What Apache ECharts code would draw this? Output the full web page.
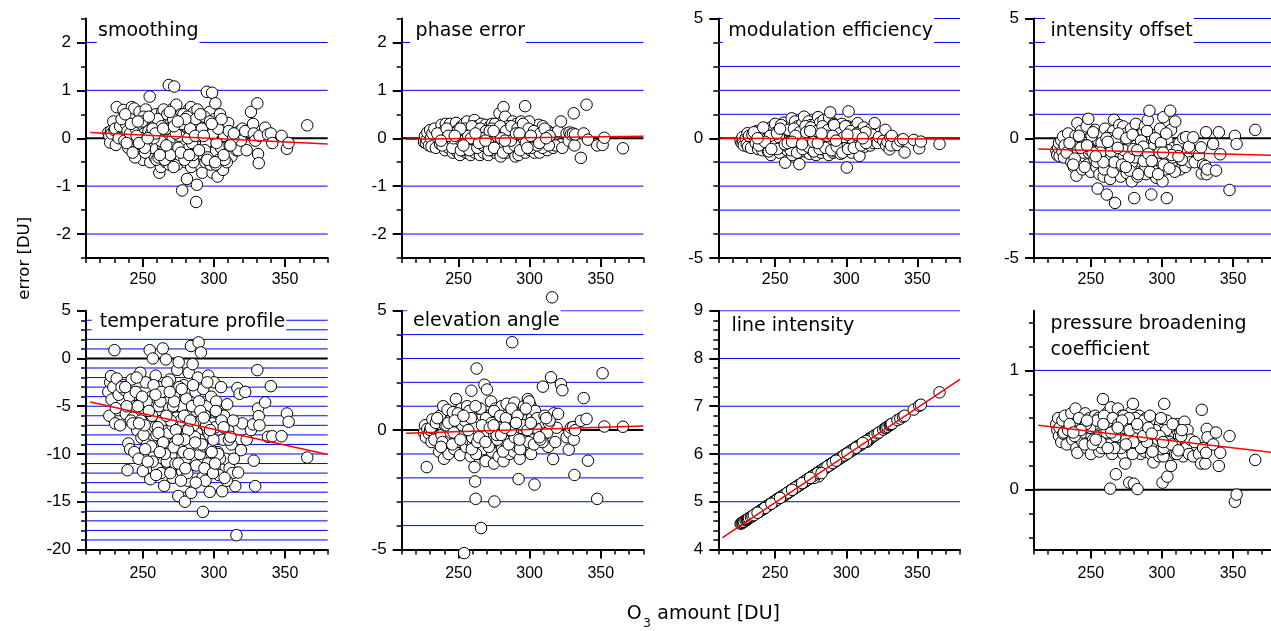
<!DOCTYPE html>
<html><head><meta charset="utf-8">
<script src="https://cdn.jsdelivr.net/npm/echarts@6/dist/echarts.min.js"></script>
<style>html,body{margin:0;padding:0;background:#fff}#c{width:1271px;height:631px}</style>
</head><body><div id="c"></div>
<script>
// ---- data ----
const o3 = [
225.7,226.4,227.0,227.6,228.0,229.2,230.0,230.5,231.0,231.6,
233,234,236.3,237,238,239.2,239.8,240.5,241,242.2,
243,244,245,246,247,247.6,248.2,249,250,251,
252,253,253.9,254.8,255.2,256,257,258,258.5,259,
260,261.2,261.6,262,262.7,263.6,264,265,265.8,266.2,
267,267.6,268.2,269,270,270.3,271,272,272.8,273.5,
274.2,274.9,275.2,276,277,277.6,278.2,278.8,279.6,280.2,
280.5,281,281.6,282.3,282.8,283.8,284,285,286,287,
287.5,287.7,288,288.7,289.2,290,290.8,291.2,291.8,292.2,
292.5,293,294,295,296,296.8,297,298,298.7,299,
300,300.4,301,301.6,302.6,303.4,303.8,305,305.8,306.4,
307,308,309.3,310,311,312.3,313,315,315.8,316.5,
317,318,319,320,244.5,250.5,256.5,263,268.6,276.5,
283,285.5,289.8,294.5,297.6,304.2,260.5,270.8,279,286.5,
248.6,255.8,262.3,266.8,271.6,275.6,278.5,284.6,293.6,301.8,
252.6,259.6,264.6,269.6,273,281.8,288.4,295.6,299.6,309,
322,323,326,327.5,328,329,330.5,331,331.5,332,336,338,340,341,347.5,351.3,352.5,365.6,
235,238.6,241.6,245.6,249.5,251.6,254.2,257.5,259.3,261,
263.2,265.4,267.2,269.3,271.3,273.2,275,277.3,279.3,281.3,
283.3,285.3,287.2,289.5,291.5,293.3,295.3,297.3,299.3,301.3,
303,305.3,307.5,310.5,313.5,246.5,256.8,266.5,276.8,286.8,
242.8,251.3,258.8,264.3,271.9,279.9,290.4,298.4,306.8,314,
237.6,247.3,253.4,261.9,268.9,274.6,282.6,292.8,300.8,311.6];

const smoothing = [
0.12,0.05,-0.09,0.15,0.1,0.35,0.17,0.2,-0.14,0.65,
0.0,0.25,0.59,-0.05,0.3,0.15,-0.2,0.45,0.1,0.65,
-0.15,0.62,0.2,-0.25,0.05,0.55,-0.35,0.3,-0.45,0.1,
0.6,-0.3,0.15,0.87,-0.5,0.4,-0.1,0.25,-0.4,0.5,
-0.2,0.35,-0.72,0.1,-0.6,0.55,-0.3,0.3,0.05,-0.5,
0.45,-0.15,1.11,0.3,-0.45,0.6,0.0,1.08,-0.25,0.7,
-0.55,0.2,0.45,-0.35,0.5,-1.09,0.15,-0.1,0.35,-0.5,
0.25,-0.85,-0.2,0.6,-0.4,0.65,-0.6,0.1,0.55,-0.3,
-1.33,0.3,-0.97,-0.45,0.45,-0.15,0.05,-0.6,-0.72,0.35,
-0.35,0.2,-0.5,0.97,0.25,-0.2,0.55,-0.05,0.95,-0.72,
-0.3,0.4,0.73,0.1,-0.8,-0.45,0.3,-0.2,0.15,-0.66,
0.05,-0.35,0.25,0.32,-0.15,-0.38,0.1,-0.1,-0.25,0.05,
-0.25,0.15,-0.05,0.2,-0.4,0.45,-0.2,0.15,-0.55,-0.05,
0.05,-0.5,0.15,-0.1,-0.55,0.5,0.4,0.25,-0.35,0.35,
0.0,0.1,-0.05,0.2,-0.6,0.05,0.5,-0.1,-0.25,-0.1,
-0.1,-0.45,0.6,-0.2,0.35,0.0,0.6,-0.4,0.2,-0.5,
0.15,-0.25,0.55,0.3,0.1,-0.05,0.73,-0.33,-0.52,0.05,0.22,0.08,0.1,-0.1,0.05,-0.22,-0.1,0.27,
0.4,-0.1,0.3,0.05,0.35,-0.3,0.45,0.0,0.15,-0.4,
0.25,-0.45,0.5,-0.35,0.4,0.1,-0.2,0.3,-0.45,0.45,
0.2,-0.35,0.4,-0.25,0.2,0.45,-0.45,0.35,0.1,-0.55,
0.2,0.4,-0.45,0.15,0.0,0.35,0.2,-0.15,-0.3,0.05,
-0.3,-0.2,0.1,0.2,0.25,0.4,0.5,0.3,-0.35,0.1,
0.5,-0.1,0.0,-0.35,0.55,0.35,-0.35,0.05,-0.5,-0.15];

const phaseError = [
-0.08,0.05,-0.1,-0.03,0.12,-0.15,0.17,0.0,-0.17,0.1,
0.2,-0.2,0.05,-0.12,0.28,-0.05,0.15,-0.25,0.3,0.0,
-0.2,0.3,0.1,-0.3,0.22,-0.05,0.32,-0.28,0.12,-0.35,
0.25,-0.1,0.3,0.05,-0.3,0.35,-0.2,0.1,-0.35,0.2,
-0.15,0.38,-0.3,0.05,0.25,-0.25,0.15,-0.35,0.3,-0.05,
0.2,-0.3,0.1,0.28,-0.2,0.05,-0.35,0.25,-0.1,0.3,
-0.25,0.15,0.0,-0.3,0.3,-0.15,0.2,0.52,-0.38,0.1,
-0.2,0.35,0.65,-0.1,0.45,-0.3,0.2,0.0,-0.25,0.3,
-0.15,0.15,0.35,-0.3,0.05,-0.38,0.3,-0.2,0.1,-0.35,
0.25,-0.05,0.35,-0.25,0.15,0.67,-0.3,0.2,0.0,-0.15,
0.3,-0.25,0.1,-0.1,0.25,-0.3,0.05,0.2,-0.2,0.28,
-0.3,0.1,0.25,-0.15,0.05,-0.25,0.15,-0.05,0.1,-0.2,
0.05,-0.15,0.1,0.15,0.0,-0.15,0.12,0.0,0.15,-0.1,
-0.05,0.12,-0.1,0.05,0.1,-0.1,-0.2,-0.05,0.1,-0.1,
0.15,-0.2,0.2,-0.15,0.1,0.3,-0.1,0.25,0.12,0.1,
-0.25,0.1,-0.1,0.15,-0.25,0.2,-0.05,-0.1,0.35,-0.2,
0.35,-0.2,0.1,-0.05,0.12,0.08,0.1,0.52,-0.15,0.08,-0.41,0.1,0.70,-0.03,-0.15,-0.14,0.01,-0.21,
0.1,-0.15,0.2,-0.2,0.15,-0.25,0.2,-0.25,0.25,0.0,
-0.2,0.2,-0.15,0.15,-0.25,0.2,-0.2,0.15,0.25,-0.3,
0.15,-0.2,0.25,-0.15,0.2,-0.25,0.3,-0.1,0.2,-0.2,
0.15,-0.15,0.1,0.2,-0.15,0.0,0.05,0.0,0.05,-0.05,
0.05,0.2,0.0,-0.1,0.15,0.0,0.1,-0.2,-0.1,0.05,
-0.05,0.05,-0.15,0.1,-0.05,0.15,-0.05,0.1,0.05,0.0];

const modulationEfficiency = [
-0.11,-0.2,0.05,-0.15,-0.3,0.0,-0.25,0.21,-0.35,0.1,
-0.4,0.15,-0.2,0.3,-0.45,0.05,-0.3,0.35,-0.5,0.2,
-0.1,0.4,-0.55,0.25,-0.7,0.1,0.5,-0.35,0.6,-0.2,
0.3,-0.6,0.15,0.55,-0.4,0.65,-1.02,0.2,-0.5,0.45,
-0.3,0.6,0.83,-0.7,0.3,-0.45,0.7,-0.2,0.5,-0.6,
-1.08,0.35,-0.4,0.6,-0.15,0.9,-0.55,0.45,-0.3,0.7,
-0.65,0.2,0.55,-0.5,0.35,-0.25,0.6,-0.7,0.15,0.88,
-0.45,0.25,0.65,-0.6,0.4,-0.3,0.75,-0.5,0.3,-0.15,
0.55,-0.7,0.85,1.08,-0.4,0.25,-0.6,0.6,-0.3,0.45,
-0.55,0.3,-0.2,0.5,-0.65,0.15,0.6,-0.45,0.35,-0.25,
0.2,-1.22,0.5,1.12,-0.5,0.35,-0.6,0.45,-0.3,0.2,
-0.4,0.63,-0.74,0.3,-0.2,0.45,-0.35,0.2,-0.1,0.35,
-0.3,0.15,-0.2,0.63,0.0,-0.1,0.1,-0.05,0.15,-0.1,
0.1,-0.2,0.0,-0.05,0.15,-0.15,0.05,0.2,-0.1,0.0,
-0.25,-0.1,0.1,-0.3,0.0,0.1,-0.3,0.05,-0.35,-0.05,
0.05,-0.15,-0.05,0.1,-0.2,-0.05,-0.25,0.0,-0.4,0.1,
-0.2,0.05,-0.1,0.35,-0.3,-0.15,-0.46,0.03,-0.3,0.1,-0.28,-0.1,-0.04,-0.59,-0.07,-0.42,-0.14,-0.24,
0.25,-0.3,0.45,-0.55,0.2,-0.45,0.55,-0.3,0.35,-0.5,
0.4,-0.6,0.25,-0.45,0.5,-0.35,0.45,-0.55,0.3,-0.45,
0.5,-0.4,0.35,-0.5,0.55,-0.35,0.2,-0.6,0.5,-0.45,
0.3,-0.4,0.2,-0.3,0.25,0.1,-0.25,0.0,-0.15,0.1,
-0.15,0.2,-0.2,0.1,0.25,-0.2,0.1,0.05,0.15,-0.2,
0.0,-0.45,0.4,-0.15,-0.25,0.3,0.2,-0.1,0.15,0.0];

const intensityOffset = [
-0.5,-0.7,-0.4,-0.2,-0.75,-0.1,-0.55,0.07,-0.8,-0.3,
-0.6,0.2,-1.0,-0.3,-1.2,0.1,-1.56,0.63,-0.5,-0.9,
0.3,-1.3,-0.2,-0.8,0.5,-1.1,0.81,-0.4,-1.4,0.0,
-0.7,0.35,-1.2,-2.1,-0.1,-1.5,0.2,-0.9,-0.3,-1.6,
0.4,-2.35,-0.6,-1.1,0.1,-1.7,-0.4,-0.9,0.3,0.77,
-2.7,-1.3,-0.2,-1.0,0.55,-0.6,-1.6,-0.3,0.49,-1.2,
-0.5,0.2,-1.45,-0.8,-0.1,-1.1,0.4,-1.8,-0.6,-0.2,
-2.5,-1.25,0.6,-0.7,-1.6,0.1,-0.9,-0.4,-1.3,0.3,
-0.6,-1.0,0.5,-1.5,-0.2,0.75,-0.8,1.15,-1.2,-0.4,
-2.35,0.1,-1.05,-0.5,-1.65,0.2,-0.7,-1.3,0.4,-1.0,
-0.3,-1.8,0.88,-0.6,-1.3,-2.5,-0.1,-0.9,1.15,0.35,
-1.1,-0.4,0.7,-0.7,-1.0,-0.2,-1.3,0.0,-0.6,-1.2,
0.05,-0.85,-0.35,-1.0,-0.6,0.1,-0.5,0.0,-0.7,-0.4,
-0.5,-1.0,-0.9,-0.2,-0.55,-0.5,-0.8,-0.9,-1.0,-0.7,
-0.6,-0.7,-0.3,-0.5,0.0,-0.6,-0.35,-0.2,-0.4,-0.9,
-0.9,-0.2,-1.3,-0.55,-0.8,-0.3,-1.2,-0.9,-0.4,-1.4,
0.04,-1.0,-0.7,-0.38,-1.47,-1.1,-1.16,0.25,-1.5,-1.3,-0.24,-1.35,0.25,-0.67,-2.16,0.1,-0.24,0.35,
-0.2,-0.85,0.1,-1.2,-0.5,0.25,-1.0,-0.2,-1.3,0.0,
-0.9,-1.4,-0.1,0.2,-1.15,-0.5,0.0,-1.35,0.15,-0.8,
-1.5,-0.1,-0.95,0.3,-1.4,-0.7,0.0,-1.5,-0.2,-1.1,
0.2,-1.25,-0.8,-0.5,-0.9,-0.3,-0.6,-1.0,-0.8,-0.35,
-0.4,-0.6,-1.0,-0.55,-1.1,-0.45,-0.65,-0.6,-0.7,-0.9,
-1.1,-0.3,-0.75,-0.15,-0.4,-1.2,-0.5,-0.95,-0.6,-0.75];

const temperatureProfile = [
-3.5,-6.0,-2.5,-1.85,-4.3,-3.0,0.87,-6.8,-5.2,-2.1,
-3.8,-7.0,-2.8,-3.3,-5.8,-11.7,-8.9,-4.0,-9.5,-2.2,
-6.2,-9.8,-3.5,-7.5,-10.5,-4.8,-1.5,-8.3,-11.8,-5.5,
-2.5,-9.0,-6.8,0.87,-12.64,-4.0,0.0,-10.2,-7.2,-1.8,
-11.5,-5.0,-8.5,-3.0,-12.0,-6.5,1.05,-13.34,-9.5,-0.1,
-4.5,-11.0,-7.8,-2.2,-10.2,-5.5,-12.5,-3.8,-8.8,-6.2,
-1.2,-14.4,-0.4,-9.0,-5.0,-11.8,-7.0,-2.8,-15.0,-10.5,
-4.2,-8.0,-12.8,-1.5,-6.0,1.3,-14.07,-0.6,-9.5,-3.5,
-11.2,-5.5,-7.8,-2.0,1.68,-10.0,0.63,-6.5,-12.5,-16.06,
-3.2,-9.2,-12.8,-5.0,-1.8,-8.0,-13.97,-4.0,-10.5,-6.8,
-2.5,-11.5,-7.2,-4.5,-9.8,-12.2,-5.8,-3.0,-13.9,-8.5,
-6.0,-10.5,-4.8,-7.5,-11.5,-9.0,-12.0,-13.37,-18.5,-3.1,
-11.94,-3.7,-9.6,-6.8,-5.0,-8.0,-6.0,-9.0,-5.2,-6.5,
-9.0,-7.0,-8.5,-7.0,-9.5,-10.5,-7.2,-7.0,-6.0,-8.2,
-6.5,-9.2,-4.5,-10.8,-9.3,-3.0,-9.8,-5.0,-6.0,-10.0,
-4.5,-8.0,-3.5,-6.5,-11.0,-7.5,-9.0,-11.0,-8.5,-12.8,
-3.5,-8.5,-7.5,-6.9,-10.7,-13.37,-1.22,-5.24,-6.04,-7.0,-4.6,-8.2,-2.9,-8.14,-8.14,-5.76,-6.63,-10.37,
-3.0,-5.0,-6.5,-2.0,-4.0,-9.5,-5.5,-2.8,-12.2,-7.8,
-3.5,-10.0,-2.5,-12.0,-5.0,-7.5,-11.0,-3.2,-8.5,-12.0,
-6.5,-2.8,-13.0,-4.5,-9.0,-11.5,-2.5,-7.5,-12.0,-5.5,
-10.0,-6.5,-12.5,-8.5,-6.5,-5.0,-10.8,-6.0,-12.8,-8.8,
-6.8,-7.0,-3.8,-8.8,-4.5,-11.5,-5.5,-9.8,-7.2,-10.5,
-3.0,-6.8,-10.8,-9.8,-3.5,-8.5,-10.0,-6.2,-11.0,-8.2];

const elevationAngle = [
-0.1,0.2,-0.3,-1.55,0.05,-0.15,0.0,0.1,-0.5,0.45,
-0.4,0.3,-0.9,0.6,-0.2,1.0,-1.2,0.2,-0.6,0.85,
-1.0,0.4,-0.3,0.75,-0.8,0.1,1.3,-0.5,0.3,-1.05,
0.9,-0.2,-5.15,0.5,-0.7,1.0,-0.4,0.2,-1.1,1.65,
-0.6,-1.55,-2.15,-2.88,2.58,0.7,-1.0,0.2,-4.1,0.5,
-0.8,0.3,1.9,-1.3,1.7,-0.1,0.6,-0.6,1.2,-0.9,
0.4,-1.4,-2.99,0.9,-0.3,0.1,-1.1,0.7,-0.5,1.0,
-0.8,0.3,-1.3,0.6,-0.1,1.1,-0.7,0.4,-1.0,0.2,
-0.4,3.68,0.8,-0.9,1.15,-0.2,0.5,-0.7,0.0,-2.05,
0.3,-1.2,0.7,-0.5,1.0,-0.2,0.4,-0.8,1.3,0.1,
-0.6,1.05,-1.0,0.5,0.2,-2.28,0.8,-0.3,0.4,-0.1,
0.2,-0.3,1.82,-0.2,0.3,-0.1,-0.7,2.21,5.56,-1.21,
0.7,-0.5,0.1,0.68,-0.1,0.1,0.3,-0.2,0.0,0.3,
-0.3,0.5,0.1,-0.4,0.0,0.1,0.4,-0.5,0.1,-0.2,
-0.2,0.0,-1.0,0.6,-0.3,0.5,-0.1,-0.5,0.1,-0.4,
0.2,-0.3,0.9,-0.1,0.2,-0.4,0.0,0.2,1.2,-0.5,
1.92,1.67,-0.3,-0.82,-0.1,0.1,0.13,-0.4,-1.88,0.0,0.39,1.34,0.47,-1.28,-2.88,2.38,0.15,0.14,
0.5,-0.5,0.2,-0.6,0.7,-0.3,0.4,0.8,-0.8,0.1,
-0.5,0.9,-0.2,0.5,-0.7,0.3,0.8,-0.4,0.6,-0.9,
0.5,-0.6,0.9,-0.3,0.6,-0.8,0.2,0.9,-0.5,0.3,
-0.6,0.5,-0.4,0.6,0.3,-0.1,0.0,0.2,-0.2,0.0,
0.3,-0.4,0.5,-0.3,0.1,-0.2,0.3,0.0,-0.3,0.4,
-0.7,0.4,0.6,1.0,-0.5,0.2,0.1,-0.4,0.3,0.5];

const lineIntensity = [
4.54,4.55,4.56,4.58,4.58,4.61,4.62,4.63,4.64,4.66,
4.68,4.70,4.75,4.76,4.78,4.80,4.82,4.83,4.84,4.86,
4.88,4.90,4.92,4.94,4.96,4.97,4.98,5.00,5.02,5.04,
5.06,5.08,5.09,5.11,5.12,5.13,5.15,5.17,5.18,5.19,
5.21,5.24,5.24,5.25,5.27,5.28,5.29,5.31,5.33,5.33,
5.35,5.36,5.37,5.39,5.41,5.41,5.43,5.45,5.46,5.48,
5.49,5.51,5.51,5.53,5.55,5.56,5.57,5.58,5.60,5.61,
5.53,5.63,5.64,5.65,5.66,5.68,5.68,5.70,5.72,5.74,
5.75,5.76,5.76,5.78,5.79,5.80,5.82,5.83,5.84,5.85,
5.85,5.86,5.88,5.90,5.92,5.94,5.94,5.96,5.97,5.98,
6.00,6.01,6.02,6.03,6.05,6.07,6.07,6.10,6.11,6.12,
6.14,6.16,6.18,6.19,6.21,6.24,6.25,6.26,6.31,6.32,
6.33,6.35,6.37,6.39,4.91,5.03,5.14,5.27,5.38,5.54,
5.66,5.71,5.80,5.89,5.95,6.08,5.22,5.42,5.59,5.73,
4.99,5.13,5.26,5.35,5.44,5.52,5.58,5.70,5.87,6.03,
5.07,5.20,5.30,5.40,5.47,5.64,5.77,5.91,5.99,6.17,
6.43,6.45,6.51,6.54,6.55,6.57,6.60,6.61,6.62,6.63,6.71,6.74,6.78,6.80,6.93,7.01,7.03,7.29,
4.72,4.79,4.85,4.93,5.01,5.05,5.10,5.16,5.20,5.23,
5.28,5.32,5.35,5.40,5.43,5.47,5.51,5.50,5.59,5.63,
5.67,5.71,5.75,5.79,5.83,5.87,5.91,5.95,5.98,6.02,
6.06,6.10,6.15,6.20,6.26,4.95,5.15,5.34,5.54,5.74,
4.87,5.04,5.19,5.30,5.45,5.60,5.81,5.97,6.13,6.27,
4.77,4.96,5.08,5.25,5.39,5.50,5.60,5.86,6.01,6.23];

const pressureBroadening = [
0.55,0.5,0.6,0.45,0.52,0.4,0.58,0.47,0.48,0.62,
0.38,0.5,0.64,0.42,0.55,0.68,0.35,0.31,0.58,0.45,
0.6,0.4,0.55,0.64,0.35,0.5,0.42,0.6,0.3,0.55,
0.45,0.62,0.38,0.5,0.6,0.32,0.55,0.45,0.76,0.4,
0.58,0.35,0.5,0.65,0.45,0.01,0.69,0.3,0.55,0.42,
0.6,0.13,0.48,0.68,0.35,0.55,0.4,0.62,0.3,0.5,
0.22,0.45,0.58,0.38,0.06,0.52,0.65,0.33,0.72,0.05,
0.45,0.6,0.38,0.55,0.006,0.42,0.62,0.3,0.5,0.58,
0.4,0.55,0.32,0.6,0.45,0.52,0.38,0.58,0.42,0.3,
0.5,0.6,0.23,0.44,0.56,0.35,0.48,0.28,0.55,0.4,
0.5,0.06,0.28,0.72,0.42,0.58,0.11,0.35,0.48,0.2,
0.4,0.52,0.3,0.45,0.55,0.38,0.48,0.28,0.57,0.42,
0.35,0.5,0.3,0.42,0.48,0.45,0.5,0.4,0.45,0.5,
0.45,0.4,0.48,0.42,0.38,0.45,0.48,0.5,0.42,0.46,
0.52,0.45,0.4,0.5,0.46,0.42,0.48,0.5,0.38,0.44,
0.55,0.48,0.36,0.44,0.52,0.48,0.5,0.46,0.34,0.38,
0.28,0.4,0.3,0.22,0.67,0.35,0.22,0.31,0.51,0.44,0.38,0.48,0.2,0.31,0.45,-0.10,-0.04,0.25,
0.55,0.45,0.6,0.38,0.52,0.42,0.58,0.35,0.62,0.48,
0.38,0.6,0.45,0.55,0.35,0.62,0.42,0.5,0.3,0.6,
0.52,0.35,0.58,0.4,0.62,0.32,0.5,0.42,0.6,0.35,
0.5,0.4,0.55,0.3,0.45,0.55,0.4,0.35,0.6,0.45,
0.5,0.38,0.55,0.48,0.58,0.4,0.52,0.45,0.38,0.5,
0.48,0.58,0.42,0.35,0.52,0.38,0.55,0.47,0.4,0.33];

// regression lines (end points)
const fitSmoothing = [[213, 0.12], [380, -0.12]];
const fitPhaseError = [[213, -0.02], [380, 0.04]];
const fitModulation = [[212, 0.0], [380, -0.03]];
const fitIntensityOffset = [[213, -0.45], [380, -0.71]];
const fitTemperature = [[213, -4.55], [380, -10.05]];
const fitElevation = [[213, -0.13], [380, 0.17]];
const fitLineIntensity = [[213, 4.25], [380, 7.56]];
const fitPressure = [[213, 0.54], [380, 0.31]];

// tick values
const xMajorTicks = [250, 300, 350];
const xMinorTicks = [210,220,230,240,250,260,270,280,290,300,310,320,330,340,350,360,370,380];
const panelTitles = ['smoothing','phase error','modulation efficiency','intensity offset',
  'temperature profile','elevation angle','line intensity','pressure broadening\ncoefficient'];

// ---- panel definitions ----
const panels = [
  {y: smoothing, fit: fitSmoothing, min:-2.5, max:2.5, major:[-2,-1,0,1,2], minor:[-2.5,-1.5,-0.5,0.5,1.5,2.5], blue:[-2,-1,1,2], zero:true},
  {y: phaseError, fit: fitPhaseError, min:-2.5, max:2.5, major:[-2,-1,0,1,2], minor:[-2.5,-1.5,-0.5,0.5,1.5,2.5], blue:[-2,-1,1,2], zero:true},
  {y: modulationEfficiency, fit: fitModulation, min:-5, max:5, major:[-5,0,5], minor:[-4,-3,-2,-1,1,2,3,4], blue:[-4,-3,-2,-1,1,2,3,4,5], zero:true},
  {y: intensityOffset, fit: fitIntensityOffset, min:-5, max:5, major:[-5,0,5], minor:[-4,-3,-2,-1,1,2,3,4], blue:[-4,-3,-2,-1,1,2,3,4,5], zero:true},
  {y: temperatureProfile, fit: fitTemperature, min:-20, max:5, major:[-20,-15,-10,-5,0,5],
    minor:[-19,-18,-17,-16,-14,-13,-12,-11,-9,-8,-7,-6,-4,-3,-2,-1,1,2,3,4],
    blue:[-19,-18,-17,-16,-15,-14,-13,-12,-11,-10,-9,-8,-7,-6,-5,-4,-3,-2,-1,1,2,3,4], zero:true},
  {y: elevationAngle, fit: fitElevation, min:-5, max:5, major:[-5,0,5], minor:[-4,-3,-2,-1,1,2,3,4], blue:[-4,-3,-2,-1,1,2,3,4,5], zero:true},
  {y: lineIntensity, fit: fitLineIntensity, min:4, max:9, major:[4,5,6,7,8,9],
    minor:[4.2,4.4,4.6,4.8,5.2,5.4,5.6,5.8,6.2,6.4,6.6,6.8,7.2,7.4,7.6,7.8,8.2,8.4,8.6,8.8], blue:[5,6,7,8,9], zero:false},
  {y: pressureBroadening, fit: fitPressure, min:-0.5, max:1.5, major:[0,1], minor:[-0.4,-0.2,0.2,0.4,0.6,0.8,1.2,1.4], blue:[1], zero:true}
];

const W = 241.7;
const layout = [
  {left:86,    top:18.5,  h:239.5, tl:96.7,   tt:17.7,  pad:[2.5,1,2,1.3], lh:22, xm:14},
  {left:401.7, top:18.5,  h:239.5, tl:410,    tt:17.7,  pad:[2.5,1,2,5.6], lh:22, xm:14},
  {left:718.3, top:18.5,  h:239.5, tl:722.7,  tt:17.7,  pad:[2.5,1,2,5.6], lh:22, xm:14},
  {left:1034,  top:18.5,  h:239.5, tl:1045,   tt:17.7,  pad:[2.5,1,2,5.5], lh:22, xm:14},
  {left:86,    top:310.7, h:238.8, tl:91.7,   tt:308.7, pad:[2,1,2,8],     lh:22, xm:16},
  {left:401.7, top:310.7, h:238.8, tl:407.3,  tt:307.7, pad:[2,1,1,5.7],   lh:22, xm:16},
  {left:718.3, top:310.7, h:238.8, tl:729.5,  tt:312.9, pad:[2,1,1,2],     lh:22, xm:16},
  {left:1034,  top:310.7, h:238.8, tl:1048.6, tt:309.1, pad:[2,1,1,2],     lh:26, xm:16}
];

const TICKFONT = '"Liberation Sans", Arial, Helvetica, sans-serif';
const LABELFONT = '"DejaVu Sans", Verdana, sans-serif';

const grid = [], xAxis = [], yAxis = [], series = [], title = [];
panels.forEach((p, i) => {
  const L = layout[i];
  grid.push({left: L.left, top: L.top, width: W, height: L.h, outerBoundsMode: 'none', containLabel: false});
  xAxis.push({gridIndex:i, type:'value', min:210, max:380, position:'bottom',
    axisLine:{show:true, onZero:false, lineStyle:{color:'#000', width:2}},
    axisTick:{show:true, customValues:xMajorTicks, length:9, lineStyle:{color:'#000', width:2}},
    axisLabel:{show:true, customValues:xMajorTicks, fontSize:16, color:'#000', fontFamily:TICKFONT, margin:L.xm},
    splitLine:{show:false}});
  xAxis.push({gridIndex:i, type:'value', min:210, max:380, position:'bottom',
    axisLine:{show:false, onZero:false},
    axisTick:{show:true, customValues:xMinorTicks, length:5, lineStyle:{color:'#000', width:1.5}},
    axisLabel:{show:false}, splitLine:{show:false}});
  yAxis.push({gridIndex:i, type:'value', min:p.min, max:p.max, position:'left',
    axisLine:{show:true, onZero:false, lineStyle:{color:'#000', width:2}},
    axisTick:{show:true, customValues:p.major, length:9, lineStyle:{color:'#000', width:2}},
    axisLabel:{show:true, customValues:p.major, fontSize:17, color:'#000', fontFamily:TICKFONT, margin:15},
    splitLine:{show:false}});
  yAxis.push({gridIndex:i, type:'value', min:p.min, max:p.max, position:'left',
    axisLine:{show:false, onZero:false},
    axisTick:{show:true, customValues:p.minor, length:5, lineStyle:{color:'#000', width:1.5}},
    axisLabel:{show:false}, splitLine:{show:false}});
  const xi = 2*i, yi = 2*i;
  p.blue.forEach(v => {
    series.push({type:'line', xAxisIndex:xi, yAxisIndex:yi, data:[[210, v],[380, v]], symbol:'none',
      lineStyle:{color:'#0000ff', width:1}, z:1, silent:true, animation:false});
  });
  if (p.zero) {
    series.push({type:'line', xAxisIndex:xi, yAxisIndex:yi, data:[[210, 0],[380, 0]], symbol:'none',
      lineStyle:{color:'#000', width:2}, z:1, silent:true, animation:false});
  }
  series.push({type:'scatter', xAxisIndex:xi, yAxisIndex:yi, data:o3.map((x, k) => [x, p.y[k]]),
    symbol:'circle', symbolSize:11.5, clip:false, silent:true, animation:false, z:3,
    itemStyle:{color:'#fff', borderColor:'#000', borderWidth:1, opacity:1}});
  series.push({type:'line', xAxisIndex:xi, yAxisIndex:yi, data:p.fit, symbol:'none', clip:false,
    lineStyle:{color:'#ff0000', width:1.5}, z:4, silent:true, animation:false});
  title.push({text: panelTitles[i], left: L.tl, top: L.tt, padding: L.pad, backgroundColor:'#fff', z:6,
    textStyle:{fontSize:19, fontWeight:'normal', color:'#000', fontFamily:LABELFONT, lineHeight:L.lh}});
});

const chart = echarts.init(document.getElementById('c'), null, {renderer:'canvas', width:1271, height:631});
chart.setOption({
  animation:false,
  backgroundColor:'#fff',
  textStyle:{fontFamily:TICKFONT},
  title, grid, xAxis, yAxis, series,
  graphic:[
    {type:'text', x:25, y:258.3, rotation:Math.PI/2, z:10,
      style:{text:'error [DU]', font:'16.5px ' + LABELFONT, fill:'#000', align:'center', verticalAlign:'middle'}},
    {type:'text', x:626.7, y:614.1, z:10,
      style:{text:'O', font:'19px ' + LABELFONT, fill:'#000', align:'left', verticalAlign:'middle'}},
    {type:'text', x:643.3, y:624.1, z:10,
      style:{text:'3', font:'12px ' + LABELFONT, fill:'#000', align:'left', verticalAlign:'middle'}},
    {type:'text', x:657.3, y:614.1, z:10,
      style:{text:'amount [DU]', font:'19px ' + LABELFONT, fill:'#000', align:'left', verticalAlign:'middle'}}
  ]
});
</script>
</body></html>
